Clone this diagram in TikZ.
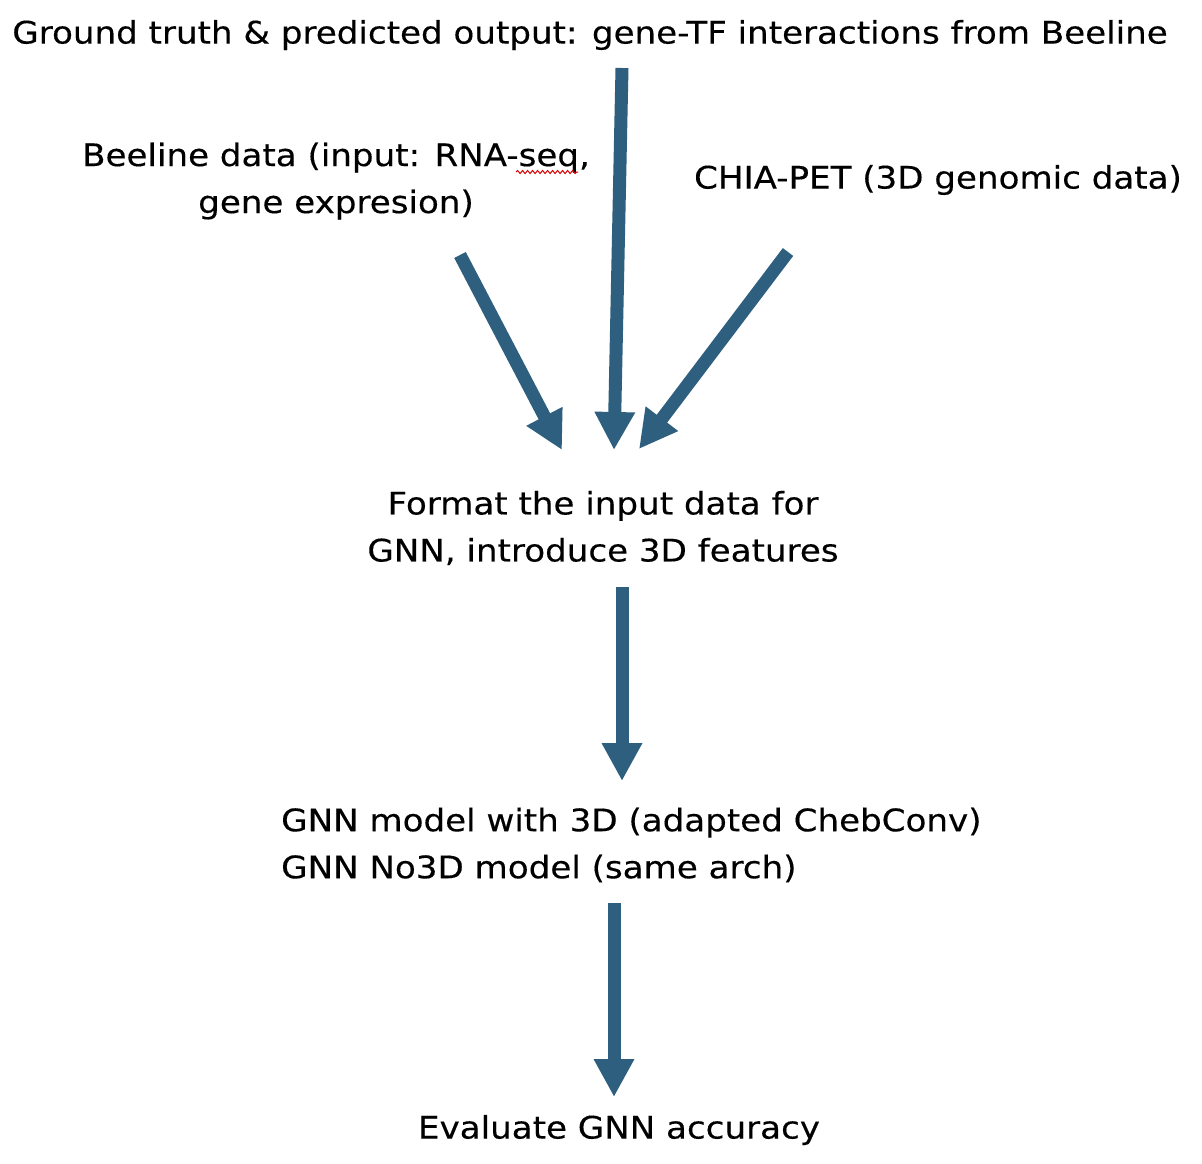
\documentclass[tikz,border=0pt]{standalone}
\usepackage{fontspec}
\setmainfont{DejaVu Sans}[FakeStretch=1.10,FakeBold=0.3]
\usetikzlibrary{arrows.meta,decorations.pathmorphing}
\definecolor{arrowblue}{HTML}{2E5F7F}
\begin{document}
\begin{tikzpicture}[x=1pt,y=-1pt,
  lbl/.style={font=\fontsize{31}{47}\selectfont, inner sep=0pt, align=center},
  bigarrow/.style={draw=arrowblue, line width=13pt, -{Triangle[width=38pt,length=38pt]}}]
\useasboundingbox[fill=white] (0,0) rectangle (1202,1164);
\node[lbl] (title) at (590,35) {Ground truth \& predicted output: gene-TF interactions from Beeline};
\node[lbl] (beeline) at (336,181) {Beeline data (input: RNA-seq,\\gene expresion)};
\node[lbl] (chia) at (938,180) {CHIA-PET (3D genomic data)};
\node[lbl] (format) at (603,528) {Format the input data for\\GNN, introduce 3D features};
\node[lbl, align=left, anchor=west] (model) at (281,845) {GNN model with 3D (adapted ChebConv)\\GNN No3D model (same arch)};
\node[lbl] (eval) at (619,1130) {Evaluate GNN accuracy};
% arrow ends
\coordinate (a1s) at (460,255);
\coordinate (a1e) at (562,450);
\coordinate (a2s) at (622,68);
\coordinate (a2e) at (614,450);
\coordinate (a3s) at (788,252);
\coordinate (a3e) at (639,449);
\coordinate (a4s) at (622,587);
\coordinate (a4e) at (622,781);
\coordinate (a5s) at (614,903);
\coordinate (a5e) at (614,1097);
\draw[bigarrow] (a1s) -- (a1e);
\draw[bigarrow] (a2s) -- (a2e);
\draw[bigarrow] (a3s) -- (a3e);
\draw[bigarrow] (a4s) -- (a4e);
\draw[bigarrow] (a5s) -- (a5e);
% spell-check squiggle
\coordinate (sqs) at (516,172);
\coordinate (sqe) at (578,172);
\draw[red!85!black, line width=1pt, decorate, decoration={snake, amplitude=1.5pt, segment length=5pt}] (sqs) -- (sqe);
\end{tikzpicture}
\end{document}
